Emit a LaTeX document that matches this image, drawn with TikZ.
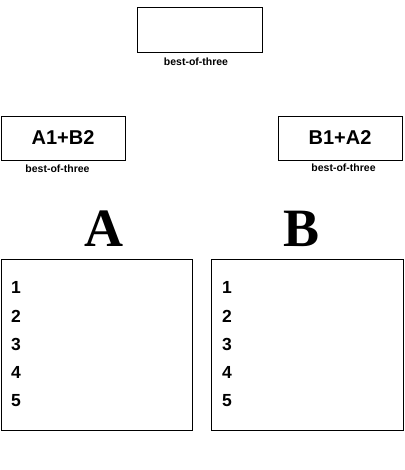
\documentclass[tikz,border=0pt]{standalone}
\usepackage{fontspec}
\setmainfont{Liberation Sans}
\newfontfamily\letterfont{Liberation Serif}
\usetikzlibrary{positioning}

\tikzset{
  box/.style={draw=black, line width=0.8pt, inner sep=0pt},
  bestlabel/.style={font=\fontsize{10.5}{12}\selectfont\bfseries, inner sep=0pt},
  pairtext/.style={font=\fontsize{20}{24}\selectfont\bfseries},
  bigletter/.style={font=\fontsize{54}{60}\letterfont\bfseries, inner sep=0pt},
  rowtext/.style={font=\fontsize{17.5}{20}\selectfont\bfseries, anchor=west, inner sep=0pt}
}

\begin{document}
\begin{tikzpicture}[x=1pt, y=-1pt]
\useasboundingbox (0, 0) rectangle (404, 470);
%%% The final best-of-three at the top
\node[box, minimum width=125pt, minimum height=45pt] (final) at (199.5, 29.5) {};
\node[bestlabel] (finallabel) at (196, 62) {best-of-three};
%%% The two semi-final pairings
\node[box, pairtext, minimum width=124pt, minimum height=44pt] (semiA) at (63, 138) {A1+B2};
\node[bestlabel] (semiAlabel) at (57.5, 169) {best-of-three};
\node[box, pairtext, minimum width=124pt, minimum height=44pt] (semiB) at (340, 138) {B1+A2};
\node[bestlabel] (semiBlabel) at (343.5, 168) {best-of-three};
%%% The groups
\node[bigletter] (groupA) at (104, 229) {A};
\node[bigletter] (groupB) at (302, 229) {B};
\node[box, minimum width=191pt, minimum height=171pt] (listA) at (96.5, 344.5) {};
\node[box, minimum width=192pt, minimum height=171pt] (listB) at (307, 344.5) {};
%%% The ranks inside each group
\foreach \n/\y in {1/287, 2/316, 3/344, 4/372, 5/401} {
  \node[rowtext] (rankA\n) at (11, \y) {\n};
  \node[rowtext] (rankB\n) at (222, \y) {\n};
}
\end{tikzpicture}
\end{document}
